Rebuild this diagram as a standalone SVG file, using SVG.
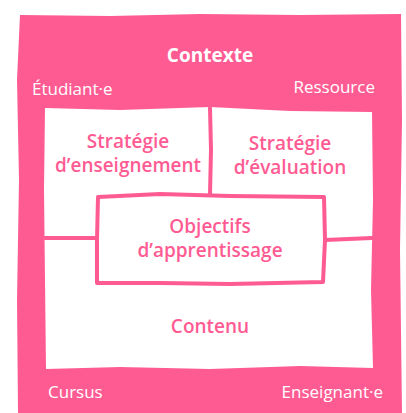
<svg xmlns="http://www.w3.org/2000/svg" width="406" height="413" viewBox="0 0 406 413">
<style>
.pink{fill:#FF5B93}
.white{fill:#ffffff}
.line{fill:none;stroke:#FF5B93;stroke-width:4;stroke-linecap:round;stroke-linejoin:round}
.lbl{font-family:"Open Sans","Liberation Sans",sans-serif;font-size:19px;fill:#FF5B93;text-anchor:middle;font-weight:600}
.ctx{font-family:"Open Sans","Liberation Sans",sans-serif;font-size:17px;fill:#ffffff}
.title{font-family:"Open Sans","Liberation Sans",sans-serif;font-size:19px;fill:#ffffff;font-weight:700;text-anchor:middle}
</style>
<rect width="406" height="413" fill="#ffffff"/>
<g id="contexte">
<path class="pink" d="M20,15 L110,16 L200,14 L300,15 L401,14 L402,120 L400,250 L402,413 L18,413 L17,300 L19,180 L17,80 Z"/>
<path class="white" d="M45,108 L120,110 L210,107 L290,111 L372,112 L373,200 L371,290 L373,368 L300,366 L210,369 L120,367 L46,369 L45,280 L44,190 Z"/>
<text class="title" x="210" y="62">Contexte</text>
<text class="ctx" x="32" y="95">Étudiant·e</text>
<text class="ctx" x="375" y="93" text-anchor="end">Ressource</text>
<text class="ctx" x="48" y="398">Cursus</text>
<text class="ctx" x="383" y="398" text-anchor="end">Enseignant·e</text>
</g>
<g id="connectors">
<path class="line" d="M210,108 L211,150 L210,194"/>
<path class="line" d="M45,238 L97,238"/>
<path class="line" d="M325,240 L372,238"/>
</g>
<g id="strategie-enseignement">
<text class="lbl" x="128" y="148">Stratégie</text>
<text class="lbl" x="128" y="172" font-size="18" textLength="146" lengthAdjust="spacingAndGlyphs">d’enseignement</text>
</g>
<g id="strategie-evaluation">
<text class="lbl" x="290" y="150">Stratégie</text>
<text class="lbl" x="290" y="174">d’évaluation</text>
</g>
<g id="objectifs">
<path class="line" d="M98,197 L160,194 L230,196 L324,197 L325,240 L323,282 L230,284 L160,283 L97,283 L97,240 Z"/>
<text class="lbl" x="210" y="233">Objectifs</text>
<text class="lbl" x="210" y="257">d’apprentissage</text>
</g>
<g id="contenu">
<text class="lbl" x="210" y="333">Contenu</text>
</g>
</svg>
